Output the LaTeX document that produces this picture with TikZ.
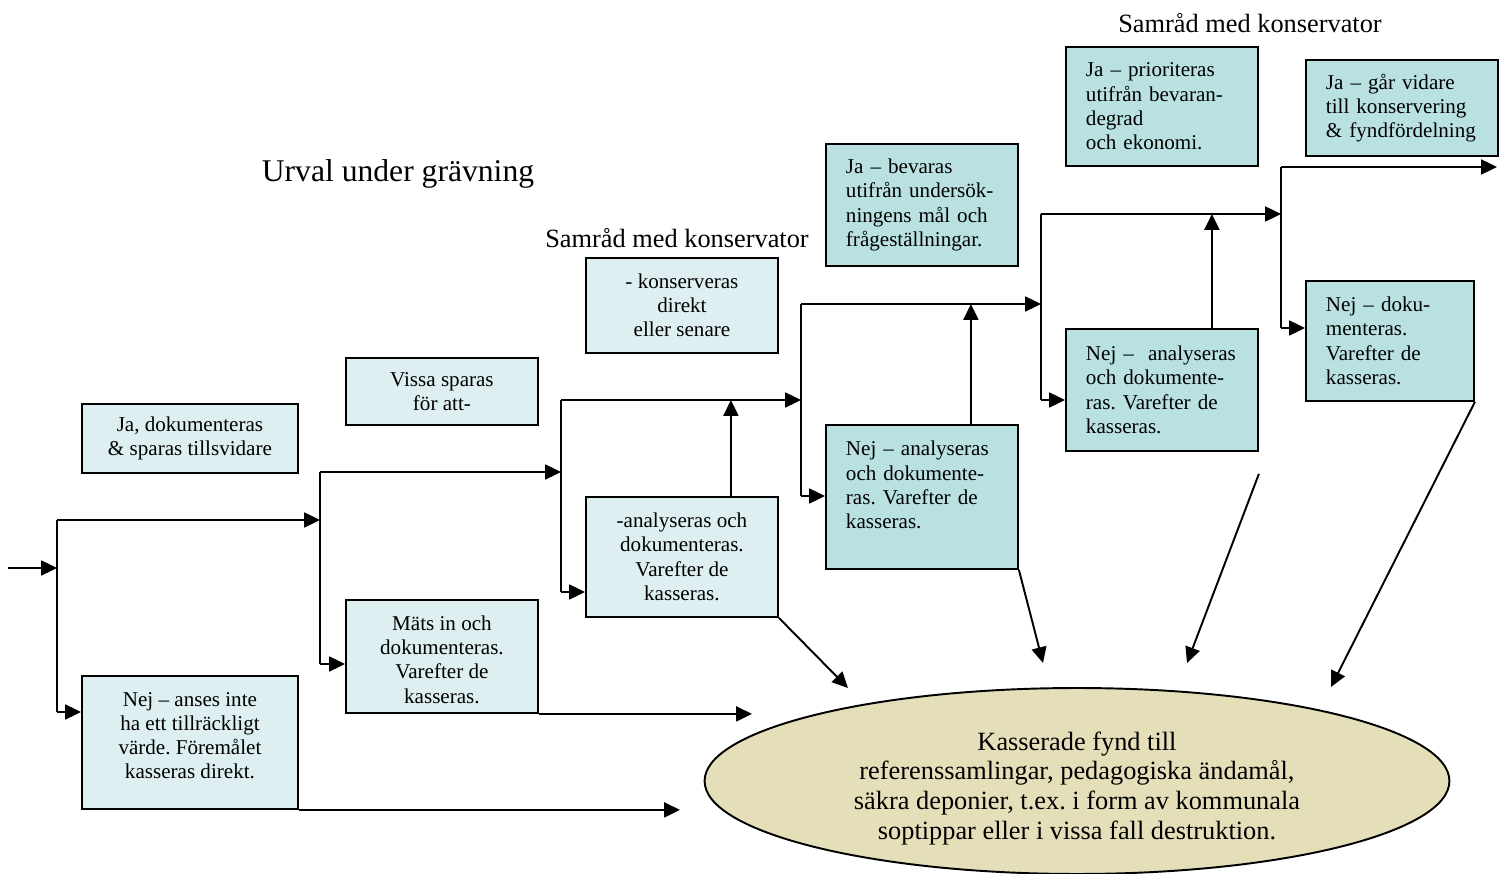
\documentclass[tikz,border=0pt]{standalone}
\usepackage{fontspec}
\setmainfont{Liberation Serif}
\usepackage{tikz}
\usetikzlibrary{arrows.meta}
\usetikzlibrary{shapes}
\usetikzlibrary{shapes.geometric}
\definecolor{ljusbla}{HTML}{DDEFF1}
\definecolor{morkbla}{HTML}{B9E1E1}
\definecolor{sand}{HTML}{E4DEB9}
\frenchspacing
\tikzset{
ljus/.style={draw, line width=1.1pt, fill=ljusbla, anchor=north west, align=center, inner sep=0pt, font=\fontsize{12}{13.8}\selectfont},
mork/.style={draw, line width=1.1pt, fill=morkbla, anchor=north west, align=left, inner xsep=0.4cm, inner ysep=0pt, text width=3.04cm, font=\fontsize{12}{13.8}\selectfont},
linje/.style={line width=1.1pt},
pil/.style={line width=1.1pt, -{Triangle[length=9pt,width=8.5pt]}},
}

\begin{document}
\begin{tikzpicture}[x=0.02cm,y=-0.02cm]%urval av fynd
\useasboundingbox (0,0) rectangle (1505,874);
\node[font=\fontsize{18}{20}\selectfont] (titel) at (398,174) {Urval under grävning};
\node[font=\fontsize{15}{17}\selectfont] (samrad1) at (677,238) {Samråd med konservator};
\node[font=\fontsize{15}{17}\selectfont] (samrad2) at (1250,23) {Samråd med konservator};
\node[ljus, minimum width=4.32cm, minimum height=1.38cm] (ja1) at (81,403) {Ja, dokumenteras\\\& sparas tillsvidare};
\node[ljus, minimum width=4.32cm, minimum height=2.66cm] (nej1) at (81,675) {Nej – anses inte\\ha ett tillräckligt\\värde. Föremålet\\kasseras direkt.\rule[-8pt]{0pt}{0pt}};
\node[ljus, minimum width=3.84cm, minimum height=1.34cm] (vissa) at (345,357) {Vissa sparas\\för att-};
\node[ljus, minimum width=3.84cm, minimum height=2.26cm] (mats) at (345,599) {\rule{0pt}{12pt}Mäts in och\\dokumenteras.\\Varefter de\\kasseras.};
\node[ljus, minimum width=3.84cm, minimum height=1.90cm] (kons) at (585,257) {- konserveras\\direkt\\eller senare};
\node[ljus, minimum width=3.84cm, minimum height=2.40cm] (anal) at (585,496) {-analyseras och\\dokumenteras.\\Varefter de\\kasseras.};
\node[mork, minimum height=2.44cm] (ja3) at (825,143) {Ja – bevaras\\utifrån undersök-\\ningens mål och\\frågeställningar.};
\node[mork, minimum height=2.88cm] (nej3) at (825,424) {Nej – analyseras\\och dokumente-\\ras. Varefter de\\kasseras.\\\mbox{}};
\node[mork, minimum height=2.38cm] (ja4) at (1065,46) {Ja – prioriteras\\utifrån bevaran-\\degrad\\och ekonomi.};
\node[mork, minimum height=2.44cm] (nej4) at (1065,328) {Nej –\ \ analyseras\\och dokumente-\\ras. Varefter de\\kasseras.};
\node[mork, minimum height=1.92cm] (ja5) at (1305,59) {Ja – går vidare\\till konservering\\\& fyndfördelning};
\node[mork, minimum height=2.40cm, text width=2.56cm] (nej5) at (1305,280) {Nej – doku-\\menteras.\\Varefter de\\kasseras.};
\node[ellipse, draw, line width=1.1pt, fill=sand, minimum width=14.9cm, minimum height=3.72cm, inner sep=0pt, align=center, font=\fontsize{15}{17}\selectfont] (fynd) at (1077,781) {\rule{0pt}{19pt}Kasserade fynd till\\referenssamlingar, pedagogiska ändamål,\\säkra deponier, t.ex. i form av kommunala\\soptippar eller i vissa fall destruktion.};
% grenpunkter
\coordinate (in) at (8,568);
\coordinate (t1) at (57,520); \coordinate (u1) at (57,712);
\coordinate (t2) at (320,472); \coordinate (u2) at (320,664);
\coordinate (t3) at (561,400); \coordinate (u3) at (561,592);
\coordinate (t4) at (801,304); \coordinate (u4) at (801,496);
\coordinate (t5) at (1041,214); \coordinate (u5) at (1041,400);
\coordinate (t6) at (1281,167); \coordinate (u6) at (1281,328);
\coordinate (ut) at (1497,167);
\draw[linje] (t1) -- (u1) (t2) -- (u2) (t3) -- (u3) (t4) -- (u4) (t5) -- (u5) (t6) -- (u6);
\draw[pil] (in) -- (in -| t1);
\draw[pil] (t1) -- (t1 -| t2);
\draw[pil] (u1) -- (u1 -| nej1.west);
\draw[pil] (t2) -- (t2 -| t3);
\draw[pil] (u2) -- (u2 -| mats.west);
\draw[pil] (t3) -- (t3 -| t4);
\draw[pil] (u3) -- (u3 -| anal.west);
\draw[pil] (t4) -- (t4 -| t5);
\draw[pil] (u4) -- (u4 -| nej3.west);
\draw[pil] (t5) -- (t5 -| t6);
\draw[pil] (u5) -- (u5 -| nej4.west);
\draw[pil] (t6) -- (ut);
\draw[pil] (u6) -- (u6 -| nej5.west);
% uppat
\coordinate (upp3) at ([xshift=-0.96cm]anal.north east);
\coordinate (upp4) at ([xshift=-0.96cm]nej3.north east);
\coordinate (upp5) at ([xshift=-0.94cm]nej4.north east);
\draw[pil] (upp3) -- (upp3 |- t3);
\draw[pil] (upp4) -- (upp4 |- t4);
\draw[pil] (upp5) -- (upp5 |- t5);
% mot ellipsen
\coordinate (e0) at (680,808);
\coordinate (e1) at (752,712);
\coordinate (e2) at (848,688);
\coordinate (e3) at (1043,663);
\coordinate (e4) at (1187,663);
\coordinate (e5) at (1331,687);
\draw[pil] (nej1.south east) -- (nej1.south east -| e0);
\draw[pil] (mats.south east) -- (mats.south east -| e1);
\draw[pil] (anal.south east) -- (e2);
\draw[pil] (nej3.south east) -- (e3);
\draw[pil] ([yshift=-0.44cm]nej4.south east) -- (e4);
\draw[pil] (nej5.south east) -- (e5);
\end{tikzpicture}
\end{document}
